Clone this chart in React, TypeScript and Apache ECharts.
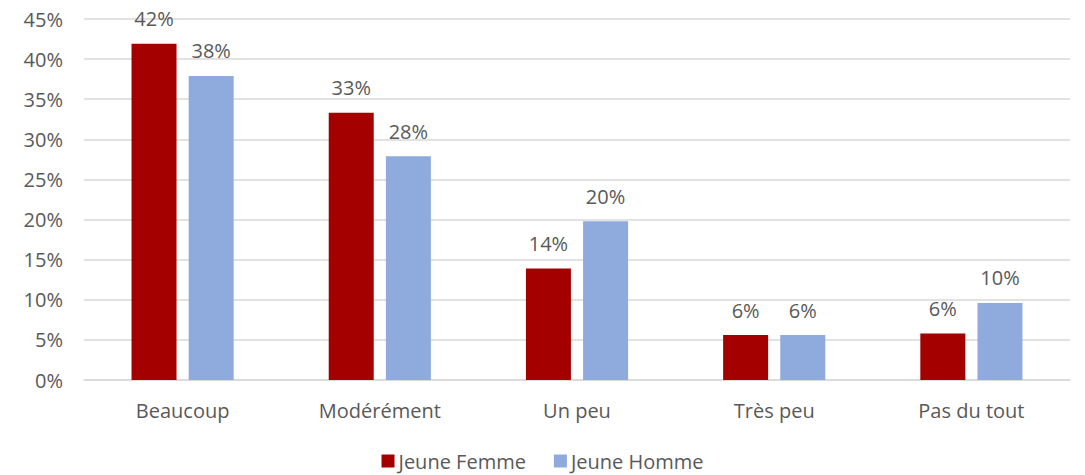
import React, { useEffect, useRef } from "react";
import * as echarts from "echarts";

const categories = ["Beaucoup", "Modérément", "Un peu", "Très peu", "Pas du tout"];
const femme = [41.9, 33.3, 13.9, 5.6, 5.8];
const homme = [37.9, 27.9, 19.8, 5.6, 9.6];
const seriesNames = ["Jeune Femme", "Jeune Homme"];

const FONT = "'Open Sans', Lato, sans-serif";
const TXT = "#595959";
const FS = 20;

export default function App() {
  const ref = useRef<HTMLDivElement>(null);
  useEffect(() => {
    const chart = echarts.init(ref.current!, null, { renderer: "svg" });
    const label = {
      show: true,
      position: "top",
      distance: 15,
      color: TXT,
      fontSize: FS,
      fontFamily: FONT,
      formatter: (p: any) => Math.round(p.value) + "%",
    };
    chart.setOption({
      animation: false,
      textStyle: { fontFamily: FONT },
      grid: { left: 84, right: 15, top: 19, bottom: 95 },
      legend: {
        top: 446,
        left: "center",
        itemWidth: 13,
        itemHeight: 13,
        itemGap: 28,
        icon: "rect",
        textStyle: { color: TXT, fontSize: FS, fontFamily: FONT, padding: [0, 0, 0, -1] },
        data: seriesNames,
      },
      xAxis: {
        type: "category",
        data: categories,
        axisLine: { lineStyle: { color: "#D9D9D9", width: 1.5 } },
        axisTick: { show: false },
        axisLabel: { color: TXT, fontSize: FS, fontFamily: FONT, margin: 20 },
      },
      yAxis: {
        type: "value",
        min: 0,
        max: 45,
        interval: 5,
        axisLine: { show: false },
        axisTick: { show: false },
        splitLine: { lineStyle: { color: "#D9D9D9", width: 1.5 } },
        axisLabel: {
          color: TXT,
          fontSize: FS,
          fontFamily: FONT,
          margin: 21,
          formatter: (v: number) => v + "%",
        },
      },
      series: [
        {
          name: seriesNames[0],
          type: "bar",
          data: femme,
          barWidth: 45,
          barGap: "27%",
          itemStyle: { color: "#A50000" },
          label,
        },
        {
          name: seriesNames[1],
          type: "bar",
          data: homme,
          barWidth: 45,
          itemStyle: { color: "#8FAADC" },
          label,
        },
      ],
    });
    return () => chart.dispose();
  }, []);
  return (
    <div
      ref={ref}
      style={{ position: "fixed", left: 0, top: 0, width: 1085, height: 475, background: "#fff" }}
    />
  );
}
